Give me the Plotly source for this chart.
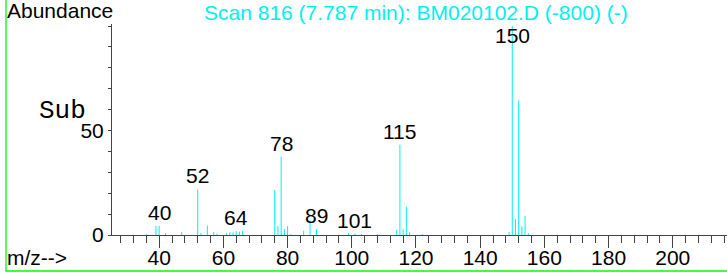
import plotly.graph_objects as go

# ---- data ----
mz = [36, 39, 40, 42, 47, 52, 53, 55, 57, 58, 61, 62, 63, 64, 65, 66,
      76, 77, 78, 79, 80, 81, 85, 87, 89, 99, 101, 103, 108,
      114, 115, 116, 117, 118, 122,
      149, 150, 151, 152, 153, 154, 155]
abundance = [0.5, 4.4, 4.4, 0.9, 1.4, 21.8, 1.0, 4.5, 1.5, 0.7, 1.0, 1.3, 1.3, 1.8, 1.6, 2.0,
             21.5, 4.3, 37.5, 2.9, 4.3, 0.5, 2.0, 7.0, 2.9, 1.0, 0.7, 0.5, 0.5,
             2.5, 43.2, 2.7, 13.5, 1.3, 0.5,
             1.5, 100.0, 7.5, 64.3, 4.0, 9.0, 1.0]
labeled_peaks = [40, 52, 64, 78, 89, 101, 115, 150]
x_major_ticks = [40, 60, 80, 100, 120, 140, 160, 180, 200]
y_tick_vals = [0, 50]
y_minor_vals = [10, 20, 30, 40, 60, 70, 80, 90, 100]

title_text = "Scan 816 (7.787 min): BM020102.D (-800) (-)"

# ---- layout geometry ----
WIDTH, HEIGHT = 727, 275
L, R, T, B = 112, 0, 24, 40
PW, PH = WIDTH - L - R, HEIGHT - T - B
X_RANGE = [25.3, 216.9]
Y_RANGE = [0, 100.96]

def px2x(px):
    return (px - L) / PW

def py2y(py):
    return (T + PH - py) / PH

FONT = "Liberation Sans, Arial, sans-serif"
CYAN = "#00f0f0"
AXIS = "#444444"

# stick spectrum built from the data arrays
sx, sy = [], []
for m, a in zip(mz, abundance):
    sx += [m, m, None]
    sy += [0, a, None]

fig = go.Figure()
fig.add_trace(go.Scatter(x=sx, y=sy, mode="lines",
                         line=dict(color=CYAN, width=1),
                         hoverinfo="skip", showlegend=False))

annotations = []
height_of = dict(zip(mz, abundance))
for m in labeled_peaks:
    annotations.append(dict(x=m, y=min(height_of[m], 89), xref="x", yref="y",
                            text=str(m), showarrow=False, yanchor="bottom",
                            xanchor="center",
                            font=dict(family=FONT, size=21, color="black")))

annotations += [
    dict(x=px2x(5), y=py2y(11), xref="paper", yref="paper", text="Abundance",
         showarrow=False, xanchor="left", yanchor="middle",
         font=dict(family=FONT, size=21, color="black")),
    dict(x=px2x(415.5), y=py2y(12.5), xref="paper", yref="paper", text=title_text,
         showarrow=False, xanchor="center", yanchor="middle",
         font=dict(family=FONT, size=21, color=CYAN)),
    dict(x=px2x(37), y=py2y(111), xref="paper", yref="paper", text="Sub",
         showarrow=False, xanchor="left", yanchor="middle",
         font=dict(family="Courier New, Liberation Mono, monospace", size=26, color="black")),
    dict(x=px2x(4.5), y=py2y(257), xref="paper", yref="paper", text="m/z-->",
         showarrow=False, xanchor="left", yanchor="middle",
         font=dict(family=FONT, size=21, color="black")),
]

shapes = [
    # green frame (left and bottom visible; top/right lie outside the window)
    dict(type="rect", xref="paper", yref="paper",
         x0=px2x(6), y0=py2y(271), x1=px2x(760), y1=py2y(-30),
         line=dict(color="#00ff00", width=1.3)),
]

fig.update_layout(
    width=WIDTH, height=HEIGHT,
    margin=dict(l=L, r=R, t=T, b=B, pad=0),
    paper_bgcolor="white", plot_bgcolor="white",
    font=dict(family=FONT, size=21, color="black"),
    showlegend=False,
    annotations=annotations,
    shapes=shapes,
    xaxis=dict(range=X_RANGE, showgrid=False, zeroline=False, automargin=False,
               showline=True, linecolor=AXIS, linewidth=1,
               tickmode="array", tickvals=x_major_ticks,
               ticks="outside", ticklen=12, tickcolor=AXIS, tickwidth=1,
               ticklabelstandoff=-8,
               tickfont=dict(family=FONT, size=21, color="black"),
               minor=dict(dtick=4, tick0=0, ticks="outside", ticklen=7,
                          tickcolor=AXIS, tickwidth=1, showgrid=False)),
    yaxis=dict(range=Y_RANGE, showgrid=False, zeroline=False, automargin=False,
               showline=True, linecolor=AXIS, linewidth=1,
               tickmode="array", tickvals=y_tick_vals,
               ticks="outside", ticklen=3, tickcolor=AXIS, tickwidth=1,
               tickfont=dict(family=FONT, size=21, color="black"),
               minor=dict(tickvals=y_minor_vals, ticks="outside", ticklen=3,
                          tickcolor=AXIS, tickwidth=1, showgrid=False)),
)

fig.write_html("out.html",
               config={"displayModeBar": False},
               post_script="document.body.style.margin='0';document.body.style.overflow='hidden';")
